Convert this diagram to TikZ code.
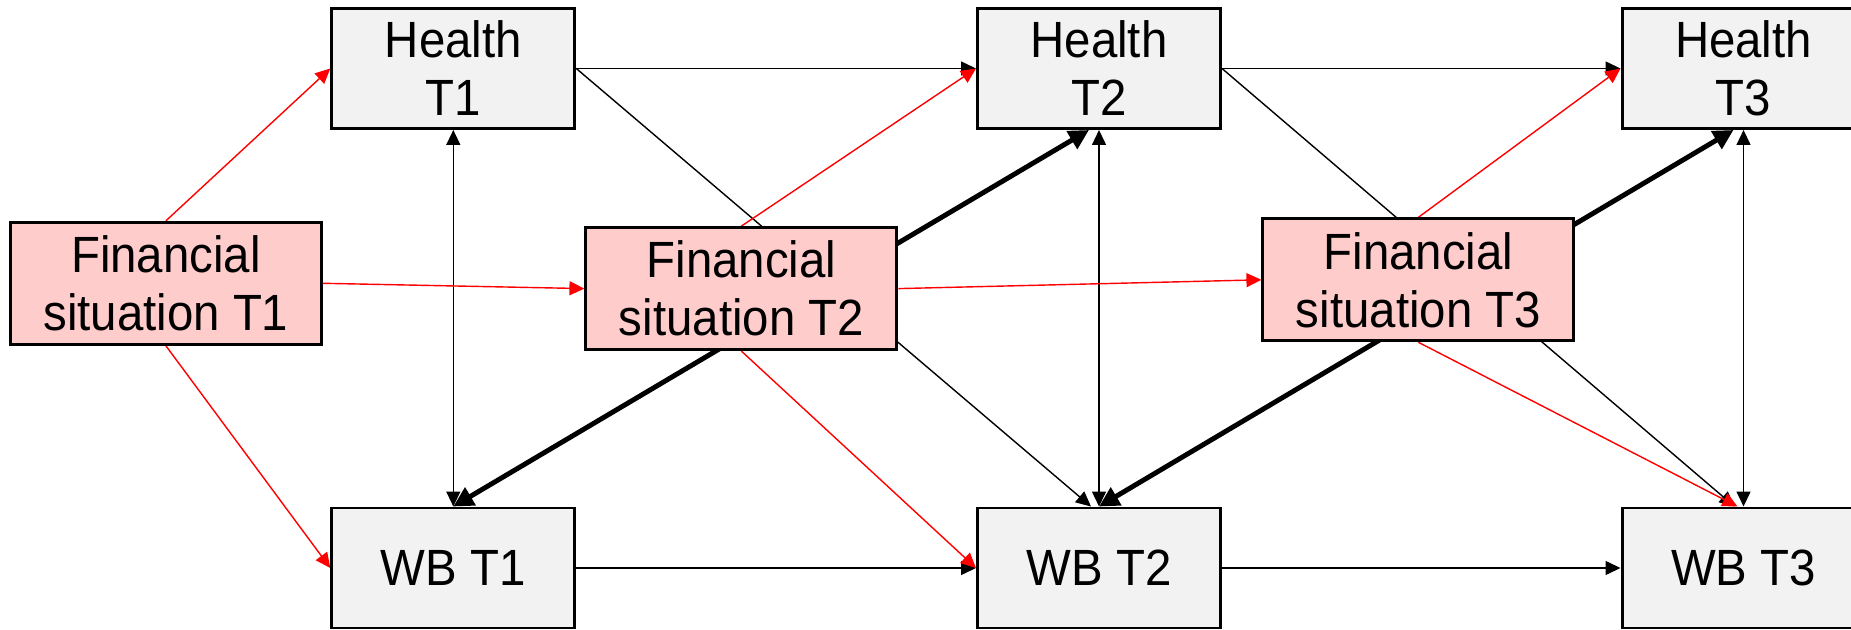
\documentclass[tikz,border=0pt]{standalone}
\usepackage{fontspec}
\setmainfont{Liberation Sans}[FakeStretch=0.93]
\usetikzlibrary{arrows.meta,backgrounds}
\definecolor{boxgray}{HTML}{F2F2F2}
\definecolor{boxpink}{HTML}{FFCCCC}
\definecolor{lnkred}{HTML}{FF0000}

\begin{document}
\begin{tikzpicture}[
    every node/.style={draw=black,line width=0.85pt,inner sep=0pt,align=center,
        font=\fontsize{14.5pt}{16.5pt}\selectfont},
    gbox/.style={fill=boxgray,minimum width=2.43cm,minimum height=1.2cm},
    pbox/.style={fill=boxpink,minimum width=3.11cm,minimum height=1.22cm},
    lnk/.style={line width=0.4pt,-{Triangle[length=0.15cm,width=0.14cm]}},
    lnkboth/.style={line width=0.4pt,{Triangle[length=0.15cm,width=0.14cm]}-{Triangle[length=0.15cm,width=0.14cm]}},
    redlnk/.style={lnk,lnkred},
    heavy/.style={line width=1.4pt,{Triangle[length=0.2cm,width=0.2cm]}-{Triangle[length=0.2cm,width=0.2cm]}}
]
\useasboundingbox (0,0) rectangle (18.51,6.29);

% health and wellbeing at each wave
\foreach \i/\x in {1/4.533,2/10.99,3/17.435} {
    \node[gbox] (h\i) at (\x,5.605) {Health\\T\i};
    \node[gbox] (w\i) at (\x,0.61) {WB T\i};
}

% financial situation
\node[pbox] (f1) at (1.659,3.457) {Financial\\situation T1};
\node[pbox] (f2) at (7.414,3.404) {Financial\\situation T2};
\node[pbox] (f3) at (14.184,3.492) {Financial\\situation T3};

\begin{scope}[on background layer]
% stability paths
\draw[lnk] (h1.east) -- (h2.west);
\draw[lnk] (h2.east) -- (h3.west);
\draw[lnk] (w1.east) -- (w2.west);
\draw[lnk] (w2.east) -- (w3.west);
\foreach \i in {1,2,3}
    \draw[lnkboth] (h\i.south) -- (w\i.north);
% cross-lagged
\draw[lnk] (h1.east) -- ([xshift=-0.08cm]w2.north);
\draw[lnk] (h2.east) -- ([xshift=-0.09cm]w3.north);
\draw[heavy] (w1.north) -- ([xshift=-0.1cm]h2.south);
\draw[heavy] (w2.north) -- ([xshift=-0.1cm]h3.south);
% financial situation effects
\draw[redlnk] (f1.north) -- (h1.west);
\draw[redlnk] (f1.east) -- (f2.west);
\draw[redlnk] (f1.south) -- (w1.west);
\draw[redlnk] (f2.north) -- (h2.west);
\draw[redlnk] (f2.east) -- (f3.west);
\draw[redlnk] (f2.south) -- (w2.west);
\draw[redlnk] (f3.north) -- (h3.west);
\draw[redlnk] (f3.south) -- ([xshift=-0.06cm]w3.north);
\end{scope}
\end{tikzpicture}
\end{document}
